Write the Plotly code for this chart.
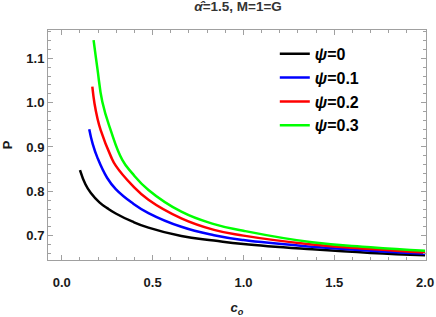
import plotly.graph_objects as go

c_black = [0.1, 0.13, 0.16, 0.207, 0.25, 0.297, 0.387, 0.477, 0.658, 0.838, 1.0, 1.378, 1.7, 2.0]
p_black = [0.848, 0.816, 0.796, 0.775, 0.762, 0.750, 0.732, 0.718, 0.699, 0.689, 0.681, 0.669, 0.661, 0.656]

c_blue = [0.151, 0.17, 0.196, 0.25, 0.297, 0.387, 0.477, 0.658, 0.838, 1.0, 1.378, 1.7, 2.0]
p_blue = [0.940, 0.907, 0.876, 0.830, 0.805, 0.774, 0.751, 0.720, 0.701, 0.690, 0.675, 0.666, 0.659]

c_red = [0.168, 0.18, 0.196, 0.214, 0.269, 0.297, 0.387, 0.477, 0.658, 0.838, 1.0, 1.378, 1.7, 2.0]
p_red = [1.036, 0.998, 0.965, 0.938, 0.880, 0.858, 0.814, 0.781, 0.739, 0.713, 0.700, 0.680, 0.670, 0.662]

c_green = [0.175, 0.196, 0.223, 0.269, 0.333, 0.387, 0.477, 0.658, 0.838, 1.0, 1.378, 1.7, 2.0]
p_green = [1.141, 1.077, 1.002, 0.938, 0.871, 0.841, 0.803, 0.754, 0.726, 0.711, 0.685, 0.674, 0.666]

names = ["<b><i>ψ</i>=0</b>", "<b><i>ψ</i>=0.1</b>", "<b><i>ψ</i>=0.2</b>", "<b><i>ψ</i>=0.3</b>"]
colors = ["#000000", "#0000ff", "#ff0000", "#00ff00"]
series = [(c_black, p_black), (c_blue, p_blue), (c_red, p_red), (c_green, p_green)]

x_ticks = [0, 0.5, 1.0, 1.5, 2.0]
x_labels = ["0.0", "0.5", "1.0", "1.5", "2.0"]
y_ticks = [0.7, 0.8, 0.9, 1.0, 1.1]
y_labels = ["0.7", "0.8", "0.9", "1.0", "1.1"]

fig = go.Figure()
for (cx, py), nm, col in zip(series, names, colors):
    fig.add_trace(go.Scatter(x=cx, y=py, mode="lines", name=nm,
                             line=dict(color=col, width=2.5, shape="spline", smoothing=1.3)))

font_family = "Liberation Sans, Arial, sans-serif"
axis_common = dict(showline=True, mirror="ticks", linecolor="#a0a0a0", linewidth=1,
                   ticks="inside", tickcolor="#a0a0a0", ticklen=5, showgrid=False,
                   zeroline=False, automargin=False,
                   tickfont=dict(family=font_family, size=13, color="#1a1a1a"))

fig.update_layout(
    width=436, height=317,
    margin=dict(l=48, r=10, t=30, b=57),
    paper_bgcolor="white", plot_bgcolor="white",
    title=dict(text="<b><i>α̂</i>=1.5, M=1=G</b>", x=0.546, xanchor="center", y=0.995, yanchor="top",
               font=dict(family=font_family, size=13.5, color="#333333")),
    showlegend=True,
    legend=dict(x=0.6, y=0.97, xanchor="left", yanchor="top", bgcolor="rgba(0,0,0,0)",
                font=dict(family=font_family, size=16, color="#000000"), tracegroupgap=0),
    font=dict(family=font_family),
)
fig.update_xaxes(range=[-0.076, 2.005], tickvals=x_ticks,
                 ticktext=["<b>%s</b>" % t for t in x_labels], ticklabelstandoff=10,
                 minor=dict(ticks="inside", dtick=0.1, tick0=0, ticklen=3, tickcolor="#a0a0a0"),
                 title=dict(text="<b><i>c<sub>o</sub></i></b>", standoff=18,
                            font=dict(family=font_family, size=13, color="#1a1a1a")),
                 **axis_common)
fig.update_yaxes(range=[0.645, 1.164], tickvals=y_ticks,
                 ticktext=["<b>%s</b>" % t for t in y_labels],
                 minor=dict(ticks="inside", dtick=0.02, tick0=0.7, ticklen=3, tickcolor="#a0a0a0"),
                 title=dict(text="<b>P</b>", font=dict(family=font_family, size=13, color="#1a1a1a")),
                 **axis_common)

fig.write_html("out.html", config={"displayModeBar": False},
               post_script="document.body.style.margin='0';document.body.style.padding='0';")
